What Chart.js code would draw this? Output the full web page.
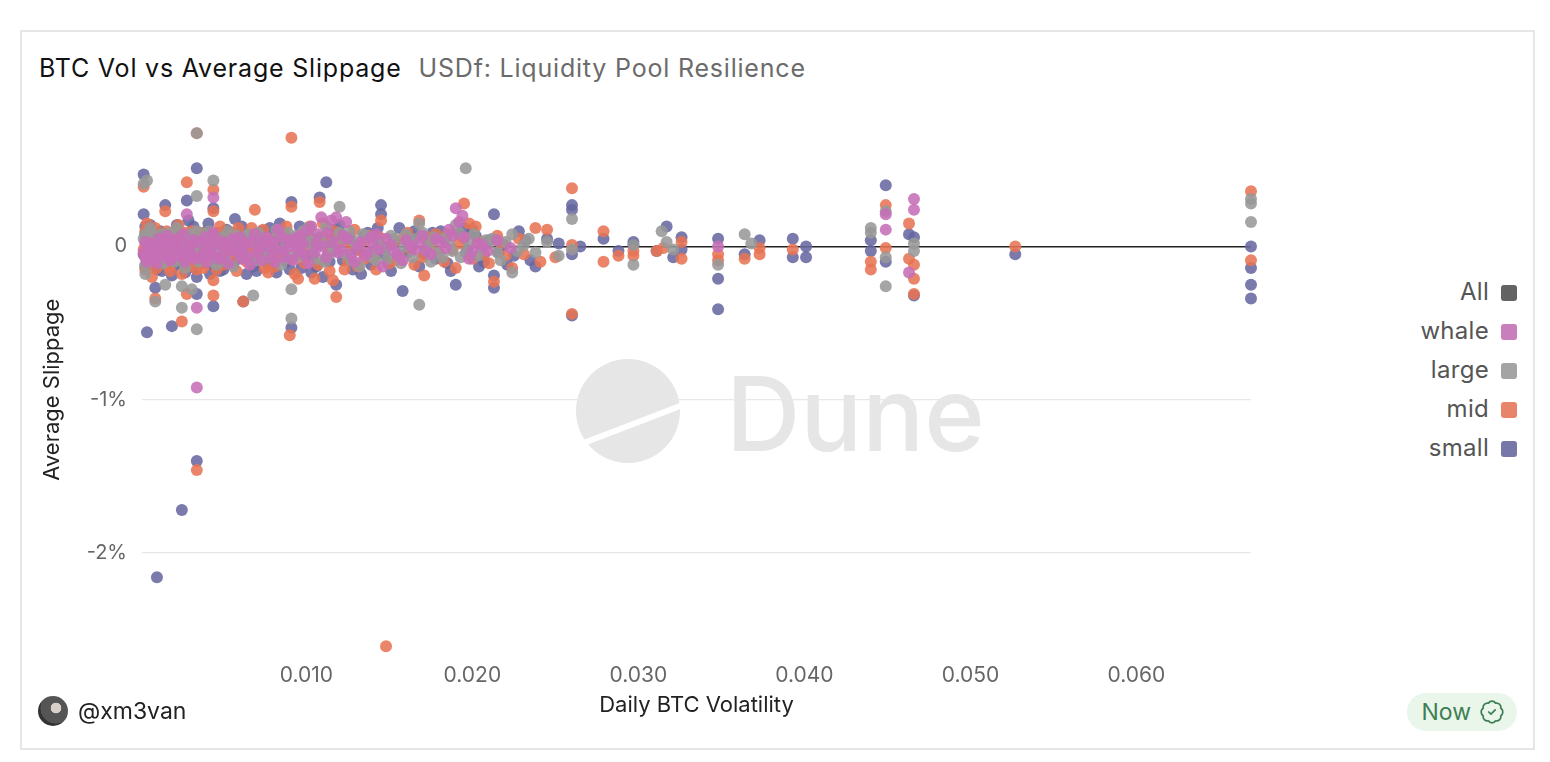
<!DOCTYPE html>
<html lang="en">
<head>
    <meta charset="UTF-8">
    <title>BTC Vol vs Average Slippage</title>
    <script src="https://cdn.jsdelivr.net/npm/chart.js@4.4.1/dist/chart.umd.min.js"></script>
    <style>
        body {
            margin: 0;
            background: #fff;
            font-family: Inter, "Noto Sans", Arial, sans-serif;
        }
        .card {
            position: absolute;
            left: 20px;
            top: 30px;
            width: 1511px;
            height: 716px;
            border: 2px solid #e6e6e6;
            background: #fff;
        }
        .title {
            position: absolute;
            left: 17px;
            top: 21px;
            font-size: 25px;
            letter-spacing: 0.8px;
            color: #111;
            white-space: nowrap;
        }
        .title span {
            color: #6b6b6b;
            margin-left: 17px;
        }
        .chart-box {
            position: absolute;
            left: 0px;
            top: 68px;
            width: 1250px;
            height: 630px;
        }
        .legend {
            position: absolute;
            right: 16px;
            top: 245px;
            text-align: right;
        }
        .legend div {
            height: 39px;
            line-height: 30px;
            font-size: 24px;
            letter-spacing: 0.3px;
            color: #555;
        }
        .legend i {
            display: inline-block;
            width: 16px;
            height: 16px;
            border-radius: 3px;
            margin-left: 12px;
            vertical-align: -1px;
        }
        .author {
            position: absolute;
            left: 16px;
            top: 664px;
            font-size: 23px;
            color: #222;
            display: flex;
            align-items: center;
        }
        .avatar {
            width: 30px;
            height: 30px;
            border-radius: 50%;
            background: radial-gradient(circle at 60% 40%, #d9cfc9 0 20%, #555 22% 60%, #333 62%);
            margin-right: 10px;
        }
        .badge {
            position: absolute;
            right: 16px;
            top: 661px;
            height: 38px;
            padding: 0 12px 0 14px;
            border-radius: 19px;
            background: #eaf6ea;
            color: #3f7f55;
            font-size: 23px;
            display: flex;
            align-items: center;
        }
        .badge svg {
            margin-left: 8px;
        }
    </style>
</head>
<body>
<div class="card">
    <div class="title">BTC Vol vs Average Slippage<span>USDf: Liquidity Pool Resilience</span></div>
    <div class="chart-box"><canvas id="slipChart"></canvas></div>
    <div class="legend" id="legend"></div>
    <div class="author"><div class="avatar"></div>@xm3van</div>
    <div class="badge">Now
        <svg width="26" height="26" viewBox="0 0 24 24" fill="none" stroke="#3f7f55" stroke-width="1.6" stroke-linecap="round" stroke-linejoin="round">
            <path d="M3.85 8.62a4 4 0 0 1 4.78-4.77 4 4 0 0 1 6.74 0 4 4 0 0 1 4.78 4.78 4 4 0 0 1 0 6.74 4 4 0 0 1-4.77 4.78 4 4 0 0 1-6.75 0 4 4 0 0 1-4.78-4.77 4 4 0 0 1 0-6.76Z"/>
            <path d="m9 12 2 2 4-4"/>
        </svg>
    </div>
</div>

<script>
    // [daily BTC volatility, average slippage in %]
    const whalePts = [
        [0.0002,-0.04],[0.0003,0.03],[0.0004,-0.10],[0.0006,0.02],[0.0008,-0.06],[0.0009,-0.08],[0.0011,0.05],
        [0.0014,-0.02],[0.0016,0.07],[0.0018,-0.09],[0.0019,0.03],[0.0021,0.01],[0.0024,-0.05],[0.0026,0.08],
        [0.0028,0.21],[0.0029,-0.03],[0.0031,-0.06],[0.0032,0.04],[0.0034,-0.92],[0.0034,-0.40],[0.0036,-0.07],
        [0.0039,0.06],[0.0042,-0.02],[0.0044,0.32],[0.0044,0.09],[0.0047,-0.08],[0.0048,0.01],[0.0050,0.03],
        [0.0053,-0.11],[0.0056,0.05],[0.0059,-0.04],[0.0061,-0.08],[0.0063,0.02],[0.0066,-0.12],[0.0069,0.08],
        [0.0072,-0.01],[0.0074,0.03],[0.0076,0.06],[0.0079,-0.06],[0.0081,-0.10],[0.0083,0.11],[0.0086,-0.03],
        [0.0089,0.04],[0.0092,-0.09],[0.0094,0.01],[0.0096,0.07],[0.0099,-0.05],[0.0101,-0.11],[0.0103,0.13],
        [0.0106,0.02],[0.0109,0.19],[0.0112,-0.07],[0.0113,0.09],[0.0115,0.17],[0.0118,0.19],[0.0121,-0.02],
        [0.0125,0.05],[0.0127,-0.05],[0.0129,-0.10],[0.0133,0.03],[0.0137,-0.04],[0.0139,0.06],[0.0142,0.08],
        [0.0146,-0.13],[0.0151,0.01],[0.0155,-0.06],[0.0158,-0.09],[0.0160,0.04],[0.0165,-0.02],[0.0168,0.02],
        [0.0170,0.07],[0.0175,-0.05],[0.0181,0.03],[0.0186,0.11],[0.0190,0.25],[0.0192,0.16],[0.0195,0.06],
        [0.0198,-0.08],[0.0203,0.02],[0.0209,-0.03],[0.0215,0.04],[0.0223,-0.01],[0.0348,0.00],[0.0449,0.21],
        [0.0449,0.11],[0.0463,-0.17],[0.0466,0.31],[0.0466,0.24],
        [0.0003,-0.07],[0.0005,0.00],[0.0007,-0.03],[0.0010,-0.11],[0.0012,0.01],[0.0013,-0.05],[0.0015,0.04],
        [0.0017,-0.07],[0.0020,-0.01],[0.0022,0.05],[0.0023,-0.06],[0.0025,0.02],[0.0027,-0.10],[0.0030,0.00],
        [0.0033,-0.08],[0.0035,0.03],[0.0038,-0.04],[0.0040,-0.10],[0.0041,0.02],[0.0043,-0.05],[0.0046,0.04],
        [0.0049,-0.06],[0.0051,0.01],[0.0054,-0.03],[0.0057,0.00],[0.0060,0.06],[0.0062,-0.02],[0.0065,-0.07],
        [0.0067,0.03],[0.0070,-0.04],[0.0073,-0.09],[0.0077,0.00],[0.0080,0.03],[0.0082,-0.02],[0.0085,0.06],
        [0.0087,-0.07],[0.0090,0.00],[0.0093,0.05],[0.0095,-0.03],[0.0098,0.02],[0.0100,0.10],[0.0105,-0.04],
        [0.0107,0.08],[0.0110,0.00],[0.0116,0.03],[0.0119,-0.04],[0.0122,0.07],[0.0124,0.16],[0.0131,0.00],
        [0.0135,-0.06],[0.0140,0.02],[0.0144,-0.02],[0.0148,0.05],[0.0153,-0.03],[0.0163,0.00],[0.0172,-0.03],
        [0.0178,0.05],[0.0184,-0.01],[0.0188,0.07],[0.0194,0.20],[0.0200,-0.03],[0.0206,0.01]
    ];
    const largePts = [
        [0.0002,0.41],[0.0002,0.05],[0.0003,-0.12],[0.0003,-0.18],[0.0004,0.43],[0.0004,0.02],[0.0005,-0.06],
        [0.0006,-0.09],[0.0007,0.09],[0.0009,-0.36],[0.0010,-0.03],[0.0012,0.06],[0.0013,0.08],[0.0014,-0.11],
        [0.0015,-0.25],[0.0017,0.04],[0.0019,-0.08],[0.0020,-0.05],[0.0022,0.12],[0.0024,-0.02],[0.0025,-0.26],
        [0.0025,-0.40],[0.0027,-0.14],[0.0029,0.05],[0.0031,-0.28],[0.0033,0.02],[0.0034,0.74],[0.0034,0.33],
        [0.0034,0.10],[0.0034,-0.54],[0.0037,-0.05],[0.0040,0.07],[0.0044,0.43],[0.0044,-0.10],[0.0046,-0.12],
        [0.0047,0.02],[0.0050,-0.07],[0.0053,0.10],[0.0056,-0.13],[0.0058,0.07],[0.0059,0.04],[0.0062,-0.03],
        [0.0065,0.08],[0.0068,-0.32],[0.0070,-0.09],[0.0072,0.01],[0.0074,0.05],[0.0078,-0.04],[0.0082,0.11],
        [0.0085,-0.12],[0.0087,-0.08],[0.0088,0.03],[0.0091,-0.47],[0.0091,-0.28],[0.0094,0.07],[0.0097,-0.06],
        [0.0100,0.03],[0.0101,0.12],[0.0104,-0.02],[0.0108,0.06],[0.0111,-0.10],[0.0113,-0.06],[0.0115,0.02],
        [0.0120,0.26],[0.0120,0.09],[0.0124,-0.05],[0.0126,0.10],[0.0128,0.04],[0.0132,-0.13],[0.0136,0.07],
        [0.0140,-0.03],[0.0142,-0.09],[0.0145,0.01],[0.0149,-0.08],[0.0153,0.05],[0.0157,-0.11],[0.0160,0.08],
        [0.0162,0.03],[0.0168,0.15],[0.0168,-0.38],[0.0172,-0.02],[0.0175,-0.10],[0.0177,0.06],[0.0182,-0.07],
        [0.0186,0.02],[0.0190,0.14],[0.0193,-0.07],[0.0196,0.51],[0.0196,-0.04],[0.0201,0.08],[0.0206,-0.01],
        [0.0208,0.04],[0.0212,0.05],[0.0217,-0.09],[0.0224,0.08],[0.0224,-0.17],[0.0231,0.01],[0.0238,-0.04],
        [0.0245,0.03],[0.0252,-0.06],[0.0260,0.18],[0.0260,-0.02],[0.0297,0.01],[0.0297,-0.12],[0.0314,0.10],
        [0.0317,0.03],[0.0321,-0.02],[0.0348,-0.12],[0.0364,0.08],[0.0368,0.02],[0.0440,0.12],[0.0440,0.09],
        [0.0449,0.23],[0.0449,-0.07],[0.0449,-0.26],[0.0466,0.02],[0.0466,-0.03],[0.0669,0.31],[0.0669,0.28],
        [0.0669,0.16],
        [0.0003,0.08],[0.0005,0.01],[0.0006,0.12],[0.0008,-0.04],[0.0009,0.04],[0.0011,-0.08],[0.0013,0.00],
        [0.0016,-0.04],[0.0018,0.09],[0.0021,-0.10],[0.0023,0.02],[0.0026,0.06],[0.0028,-0.07],[0.0030,0.08],
        [0.0032,-0.03],[0.0035,-0.10],[0.0036,0.04],[0.0038,-0.01],[0.0041,0.10],[0.0043,-0.07],[0.0045,0.01],
        [0.0048,-0.04],[0.0049,0.06],[0.0052,-0.10],[0.0054,0.03],[0.0057,-0.01],[0.0060,-0.06],[0.0063,0.06],
        [0.0066,-0.08],[0.0069,0.02],[0.0071,0.09],[0.0076,-0.07],[0.0080,0.01],[0.0083,0.07],[0.0086,-0.02],
        [0.0089,0.09],[0.0092,-0.05],[0.0095,0.00],[0.0098,0.10],[0.0103,0.04],[0.0106,-0.08],[0.0109,0.01],
        [0.0112,0.13],[0.0117,-0.03],[0.0122,0.05],[0.0127,-0.09],[0.0130,0.01],[0.0134,0.08],[0.0138,-0.06],
        [0.0143,0.03],[0.0147,-0.02],[0.0151,0.07],[0.0155,-0.05],[0.0159,0.00],[0.0164,-0.07],[0.0166,0.05],
        [0.0170,0.09],[0.0174,0.02],[0.0179,-0.04],[0.0184,0.06],[0.0188,-0.03],[0.0192,0.09],[0.0198,0.02],
        [0.0203,-0.06],[0.0210,0.02],[0.0215,-0.04],[0.0220,0.03],[0.0227,-0.03],[0.0234,0.05]
    ];
    const midPts = [
        [0.0002,0.39],[0.0002,-0.02],[0.0003,0.10],[0.0003,-0.15],[0.0004,0.15],[0.0004,-0.06],[0.0005,0.05],
        [0.0006,0.07],[0.0007,-0.20],[0.0009,-0.34],[0.0009,0.12],[0.0011,-0.09],[0.0012,-0.03],[0.0013,0.03],
        [0.0015,0.23],[0.0017,-0.13],[0.0019,0.08],[0.0021,-0.04],[0.0023,0.14],[0.0025,-0.49],[0.0025,-0.18],
        [0.0027,0.09],[0.0028,0.42],[0.0028,-0.31],[0.0030,0.02],[0.0032,-0.10],[0.0034,0.74],[0.0034,-1.46],
        [0.0034,-0.15],[0.0037,0.06],[0.0039,-0.09],[0.0040,-0.05],[0.0044,0.37],[0.0044,0.23],[0.0044,-0.32],
        [0.0044,-0.22],[0.0047,0.09],[0.0050,-0.12],[0.0052,-0.02],[0.0053,0.04],[0.0056,-0.07],[0.0059,0.12],
        [0.0062,-0.36],[0.0065,-0.02],[0.0067,0.12],[0.0069,0.24],[0.0072,0.07],[0.0075,-0.14],[0.0079,0.02],
        [0.0081,-0.13],[0.0083,-0.08],[0.0086,0.10],[0.0090,-0.58],[0.0091,0.71],[0.0091,0.26],[0.0093,-0.18],
        [0.0096,0.04],[0.0098,0.09],[0.0099,-0.11],[0.0102,0.13],[0.0105,-0.21],[0.0108,0.29],[0.0111,0.06],
        [0.0114,-0.16],[0.0117,0.10],[0.0118,-0.33],[0.0121,0.03],[0.0125,-0.09],[0.0129,0.11],[0.0133,-0.03],
        [0.0135,-0.08],[0.0138,0.07],[0.0142,-0.15],[0.0145,0.17],[0.0148,-2.61],[0.0150,-0.11],[0.0152,0.02],
        [0.0156,-0.06],[0.0161,0.09],[0.0165,-0.12],[0.0168,0.17],[0.0171,-0.19],[0.0173,0.06],[0.0175,0.01],
        [0.0180,-0.04],[0.0185,0.08],[0.0188,-0.02],[0.0190,-0.14],[0.0195,0.28],[0.0195,0.05],[0.0200,-0.08],
        [0.0202,0.13],[0.0205,0.03],[0.0210,-0.11],[0.0213,-0.23],[0.0217,0.02],[0.0224,-0.14],[0.0228,0.05],
        [0.0231,-0.05],[0.0238,0.12],[0.0241,-0.10],[0.0245,0.11],[0.0250,-0.07],[0.0260,0.38],[0.0260,-0.44],
        [0.0260,0.01],[0.0279,0.10],[0.0279,-0.10],[0.0288,-0.06],[0.0297,-0.03],[0.0297,-0.06],[0.0311,-0.03],
        [0.0315,-0.01],[0.0326,0.03],[0.0326,-0.08],[0.0348,-0.05],[0.0348,-0.09],[0.0364,-0.08],[0.0373,-0.01],
        [0.0373,-0.05],[0.0393,-0.02],[0.0440,-0.10],[0.0440,-0.15],[0.0449,0.27],[0.0449,-0.01],[0.0463,0.15],
        [0.0463,-0.08],[0.0466,-0.12],[0.0466,-0.21],[0.0466,-0.31],[0.0527,0.00],[0.0669,0.36],[0.0669,-0.09],
        [0.0003,0.02],[0.0005,-0.10],[0.0008,0.08],[0.0010,-0.14],[0.0014,-0.06],[0.0016,0.10],[0.0018,-0.16],
        [0.0020,0.01],[0.0022,-0.08],[0.0024,0.04],[0.0029,-0.13],[0.0031,0.10],[0.0033,-0.02],[0.0036,0.09],
        [0.0038,-0.14],[0.0042,0.03],[0.0046,-0.15],[0.0048,0.13],[0.0051,0.00],[0.0055,0.08],[0.0058,-0.16],
        [0.0061,0.03],[0.0064,-0.10],[0.0068,0.00],[0.0071,-0.06],[0.0074,0.11],[0.0077,-0.17],[0.0080,0.05],
        [0.0085,-0.03],[0.0088,0.13],[0.0092,-0.08],[0.0095,-0.21],[0.0100,-0.02],[0.0104,0.05],[0.0107,-0.12],
        [0.0110,0.15],[0.0113,-0.05],[0.0116,-0.22],[0.0120,0.07],[0.0123,-0.15],[0.0127,0.00],[0.0131,-0.13],
        [0.0136,0.04],[0.0140,-0.07],[0.0144,0.06],[0.0154,-0.09],[0.0158,0.05],[0.0163,-0.02],[0.0170,-0.07],
        [0.0178,0.08],[0.0183,-0.10],[0.0192,0.02],[0.0198,0.15],[0.0207,-0.05],[0.0215,0.07],[0.0220,-0.06]
    ];
    const smallPts = [
        [0.0002,0.47],[0.0002,0.21],[0.0002,-0.05],[0.0003,0.08],[0.0003,-0.13],[0.0004,0.02],[0.0004,-0.56],
        [0.0005,0.11],[0.0006,0.14],[0.0007,-0.09],[0.0009,-0.27],[0.0010,-2.16],[0.0011,0.04],[0.0013,-0.16],
        [0.0015,0.27],[0.0016,-0.07],[0.0017,-0.03],[0.0019,-0.52],[0.0019,-0.19],[0.0021,0.09],[0.0023,-0.11],
        [0.0025,-1.72],[0.0026,0.01],[0.0028,0.30],[0.0029,0.17],[0.0030,-0.08],[0.0032,0.13],[0.0034,0.51],
        [0.0034,-1.40],[0.0034,-0.31],[0.0034,-0.20],[0.0037,-0.04],[0.0040,0.10],[0.0042,-0.18],[0.0044,0.25],
        [0.0044,-0.39],[0.0044,-0.12],[0.0047,0.03],[0.0050,-0.15],[0.0053,0.06],[0.0055,0.09],[0.0057,0.18],
        [0.0059,-0.08],[0.0062,-0.36],[0.0065,0.02],[0.0068,-0.13],[0.0070,-0.16],[0.0071,0.07],[0.0075,-0.05],
        [0.0078,0.12],[0.0082,-0.17],[0.0084,0.15],[0.0085,0.00],[0.0088,-0.10],[0.0091,0.29],[0.0091,-0.53],
        [0.0094,0.05],[0.0097,-0.14],[0.0100,0.08],[0.0103,-0.17],[0.0104,-0.06],[0.0108,0.32],[0.0110,-0.20],
        [0.0112,0.42],[0.0115,0.04],[0.0118,-0.25],[0.0120,0.14],[0.0122,-0.09],[0.0126,0.06],[0.0130,-0.02],
        [0.0133,-0.18],[0.0137,0.09],[0.0139,-0.12],[0.0141,-0.07],[0.0145,0.27],[0.0145,0.21],[0.0149,-0.11],
        [0.0153,0.03],[0.0156,0.12],[0.0158,-0.29],[0.0161,-0.04],[0.0165,0.10],[0.0168,-0.13],[0.0173,0.02],
        [0.0176,0.09],[0.0178,-0.08],[0.0183,0.05],[0.0187,-0.16],[0.0190,-0.25],[0.0192,0.08],[0.0195,0.12],
        [0.0197,-0.02],[0.0202,0.07],[0.0207,-0.10],[0.0213,0.21],[0.0213,-0.19],[0.0213,-0.27],[0.0219,0.01],
        [0.0221,-0.12],[0.0225,-0.06],[0.0232,0.04],[0.0238,-0.13],[0.0245,0.05],[0.0252,0.02],[0.0260,0.27],
        [0.0260,0.24],[0.0260,-0.45],[0.0260,-0.05],[0.0265,0.00],[0.0279,0.05],[0.0288,-0.03],[0.0297,0.03],
        [0.0297,0.01],[0.0311,-0.03],[0.0317,0.13],[0.0321,-0.07],[0.0326,0.06],[0.0326,-0.02],[0.0348,0.05],
        [0.0348,-0.21],[0.0348,-0.41],[0.0364,-0.05],[0.0373,0.04],[0.0393,0.05],[0.0393,-0.07],[0.0401,0.00],
        [0.0401,-0.07],[0.0440,0.04],[0.0440,-0.03],[0.0449,0.40],[0.0449,-0.10],[0.0463,0.08],[0.0466,0.06],
        [0.0466,-0.32],[0.0527,-0.05],[0.0669,0.00],[0.0669,-0.14],[0.0669,-0.25],[0.0669,-0.34],
        [0.0003,0.13],[0.0005,-0.09],[0.0008,0.06],[0.0010,-0.15],[0.0012,0.10],[0.0014,-0.04],[0.0018,0.07],
        [0.0020,-0.13],[0.0022,0.14],[0.0024,-0.06],[0.0027,-0.17],[0.0031,0.07],[0.0033,-0.14],[0.0036,0.05],
        [0.0039,-0.11],[0.0041,0.15],[0.0046,0.07],[0.0048,-0.16],[0.0052,0.11],[0.0056,-0.11],[0.0061,0.13],
        [0.0064,-0.18],[0.0067,0.05],[0.0073,0.10],[0.0077,-0.12],[0.0081,0.06],[0.0087,0.08],[0.0090,-0.15],
        [0.0096,0.13],[0.0099,-0.06],[0.0102,0.06],[0.0106,-0.13],[0.0114,-0.10],[0.0117,0.11],[0.0124,0.05],
        [0.0128,-0.15],[0.0135,0.07],[0.0143,0.12],[0.0147,-0.05],[0.0151,-0.16],[0.0163,0.07],[0.0171,-0.05],
        [0.0181,0.10],[0.0185,-0.11],[0.0200,0.11],[0.0204,-0.13],[0.0210,0.04],[0.0216,-0.04],[0.0228,0.10],
        [0.0235,-0.09]
    ];

    const seriesNames = ['whale', 'large', 'mid', 'small'];
    const seriesPts = [whalePts, largePts, midPts, smallPts];
    const pointColors = ['rgba(198,110,182,0.88)', 'rgba(152,152,152,0.88)', 'rgba(232,116,84,0.88)', 'rgba(104,104,162,0.88)'];
    const legendColors = ['#636363', '#c97fbb', '#a4a4a4', '#e8846a', '#7777aa'];
    const legendNames = ['All'].concat(seriesNames);
    const xTickStep = 0.01;
    const yTickStep = 1;

    // legend on the right
    const legendEl = document.getElementById('legend');
    legendNames.forEach((name, i) => {
        const row = document.createElement('div');
        row.innerHTML = name + '<i style="background:' + legendColors[i] + '"></i>';
        legendEl.appendChild(row);
    });

    // Dune watermark behind the grid
    const watermark = {
        id: 'watermark',
        beforeDraw(chart) {
            const {ctx, chartArea} = chart;
            const cx = chartArea.left + 486, cy = chartArea.top + 284;
            ctx.save();
            ctx.fillStyle = '#e6e6e6';
            ctx.beginPath();
            ctx.arc(cx, cy, 52, 0, Math.PI * 2);
            ctx.fill();
            ctx.strokeStyle = '#ffffff';
            ctx.lineWidth = 6;
            ctx.beginPath();
            ctx.moveTo(cx - 60, cy + 38);
            ctx.lineTo(cx + 60, cy - 8);
            ctx.stroke();
            ctx.font = '500 103px Inter, "Noto Sans", sans-serif';
            ctx.textBaseline = 'alphabetic';
            ctx.fillText('Dune', cx + 98, cy + 40);
            ctx.restore();
        }
    };

    const ctx = document.getElementById('slipChart').getContext('2d');
    new Chart(ctx, {
        type: 'scatter',
        data: {
            datasets: seriesNames.map((name, i) => ({
                label: name,
                data: seriesPts[i].map(p => ({x: p[0], y: p[1]})),
                backgroundColor: pointColors[i],
                borderWidth: 0,
                pointRadius: 6,
                clip: false
            }))
        },
        options: {
            responsive: true,
            maintainAspectRatio: false,
            animation: false,
            layout: {
                padding: {top: 23, right: 21, bottom: 7, left: 0}
            },
            scales: {
                x: {
                    type: 'linear',
                    min: 0.0001,
                    max: 0.0669,
                    grid: {display: false, drawTicks: false},
                    border: {display: false},
                    ticks: {
                        stepSize: xTickStep,
                        includeBounds: false,
                        padding: 11,
                        color: '#666',
                        font: {size: 21, family: 'Inter'},
                        callback: v => v.toFixed(3)
                    },
                    title: {
                        display: true,
                        text: 'Daily BTC Volatility',
                        color: '#222',
                        font: {size: 22, family: 'Inter'},
                        padding: {top: -7, bottom: 4}
                    }
                },
                y: {
                    min: -2.65,
                    max: 0.78,
                    afterFit(scale) { scale.width = 120; },
                    grid: {
                        drawTicks: false,
                        color: c => c.tick && c.tick.value === 0 ? '#222' : '#e8e8e8',
                        lineWidth: c => c.tick && c.tick.value === 0 ? 1.6 : 1.2
                    },
                    border: {display: false},
                    ticks: {
                        stepSize: yTickStep,
                        includeBounds: false,
                        padding: 15,
                        color: '#666',
                        font: {size: 20, family: 'Inter'},
                        callback: v => v === 0 ? '0' : v + '%'
                    },
                    title: {
                        display: true,
                        text: 'Average Slippage',
                        color: '#222',
                        font: {size: 22, family: 'Inter'},
                        padding: {top: 17, bottom: 4}
                    }
                }
            },
            plugins: {
                legend: {display: false},
                tooltip: {enabled: false}
            }
        },
        plugins: [watermark]
    });
</script>
</body>
</html>
